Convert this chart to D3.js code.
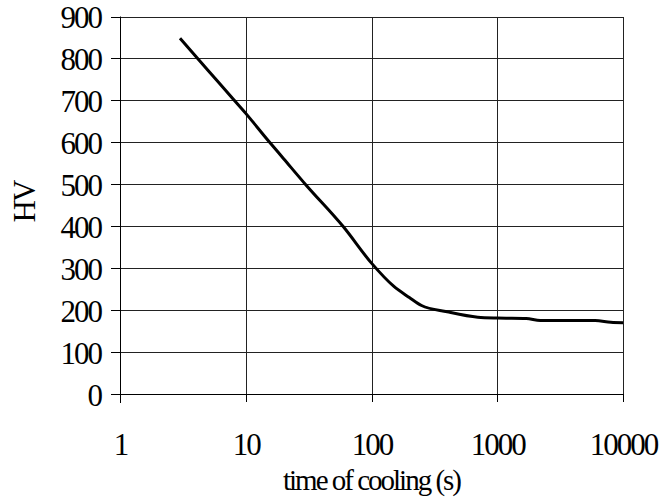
<!DOCTYPE html>
<html lang="en">
<head>
<meta charset="utf-8">
<title>Hardness vs time of cooling</title>
<script src="https://d3js.org/d3.v7.min.js"></script>
<style>
body{
  margin: 0;
  background: #fff;
}
.axis path{
  stroke: #000;
}
.axis line{
  stroke: #000;
  shape-rendering: crispEdges;
}
.grid line{
  stroke: #222;
  shape-rendering: crispEdges;
}
.grid path{
  display: none;
}
</style>
</head>
<body>
<div id="chart"></div>
<script>
// time of cooling (s) and hardness
var coolTime = [3, 5, 8, 10, 15, 20, 30, 60, 100, 150, 200, 250, 400, 700, 1000, 1700, 2200, 6000, 8000, 10000];
var hardness = [848, 772, 702, 669, 605, 561, 499, 398, 312, 257, 230, 211, 196, 183, 181, 180, 175, 175, 171, 170];

var xTicks = [1, 10, 100, 1000, 10000];
var yTicks = [0, 100, 200, 300, 400, 500, 600, 700, 800, 900];

var data = coolTime.map(function(t, i) { return { t: t, hv: hardness[i] }; });

var serif = '"Liberation Serif", "Times New Roman", serif';

var margin = { top: 16.5, right: 39, bottom: 108, left: 120 };
var width = 662 - margin.left - margin.right,
    height = 502 - margin.top - margin.bottom;

var xScale = d3.scaleLog()
  .domain([1, 10000])
  .range([0, width]);

var yScale = d3.scaleLinear()
  .domain([0, 900])
  .range([height, 0]);

var svg = d3.select('#chart')
  .append('svg')
  .attr('width', 662)
  .attr('height', 502);

var graph = svg.append('g')
  .attr('transform', 'translate(' + margin.left + ',' + margin.top + ')');

/* gridlines */
graph.append('g')
  .attr('class', 'grid')
  .call(d3.axisLeft(yScale).tickValues(yTicks).tickSize(-width).tickFormat(''));

graph.append('g')
  .attr('class', 'grid')
  .attr('transform', 'translate(0,' + height + ')')
  .call(d3.axisBottom(xScale).tickValues(xTicks).tickSize(height).tickFormat(''))
  .selectAll('line')
  .attr('y2', -height);

/* axes */
var yAxis = graph.append('g')
  .attr('class', 'axis')
  .call(d3.axisLeft(yScale).tickValues(yTicks).tickSize(9).tickSizeOuter(0).tickPadding(10));
yAxis.attr('font-family', serif).attr('font-size', 31);
yAxis.selectAll('text').attr('dy', '11px').style('letter-spacing', '-2px');
yAxis.select('.domain').attr('d', 'M0.5,' + (height + 9) + 'V0');

var xAxis = graph.append('g')
  .attr('class', 'axis')
  .attr('transform', 'translate(0,' + height + ')')
  .call(d3.axisBottom(xScale).tickValues(xTicks).tickFormat(d3.format('d')).tickSize(8).tickSizeOuter(0).tickPadding(43));
xAxis.attr('font-family', serif).attr('font-size', 31);
xAxis.selectAll('text').attr('dy', '0.32em').style('letter-spacing', '-2px');

/* the curve */
var line = d3.line()
  .x(function(d) { return xScale(d.t); })
  .y(function(d) { return yScale(d.hv); })
  .curve(d3.curveMonotoneX);

graph.append('path')
  .datum(data)
  .attr('d', line)
  .style('fill', 'none')
  .style('stroke', '#000')
  .style('stroke-width', 3)
  .style('stroke-linejoin', 'round');

/* titles */
svg.append('text')
  .attr('x', margin.left + xScale(100))
  .attr('y', 490)
  .attr('text-anchor', 'middle')
  .attr('font-family', serif)
  .attr('font-size', 29)
  .style('letter-spacing', '-2px')
  .text('time of cooling (s)');

svg.append('text')
  .attr('transform', 'translate(35,202) rotate(-90)')
  .attr('text-anchor', 'middle')
  .attr('font-family', serif)
  .attr('font-size', 31)
  .style('letter-spacing', '-2px')
  .text('HV');
</script>
</body>
</html>
